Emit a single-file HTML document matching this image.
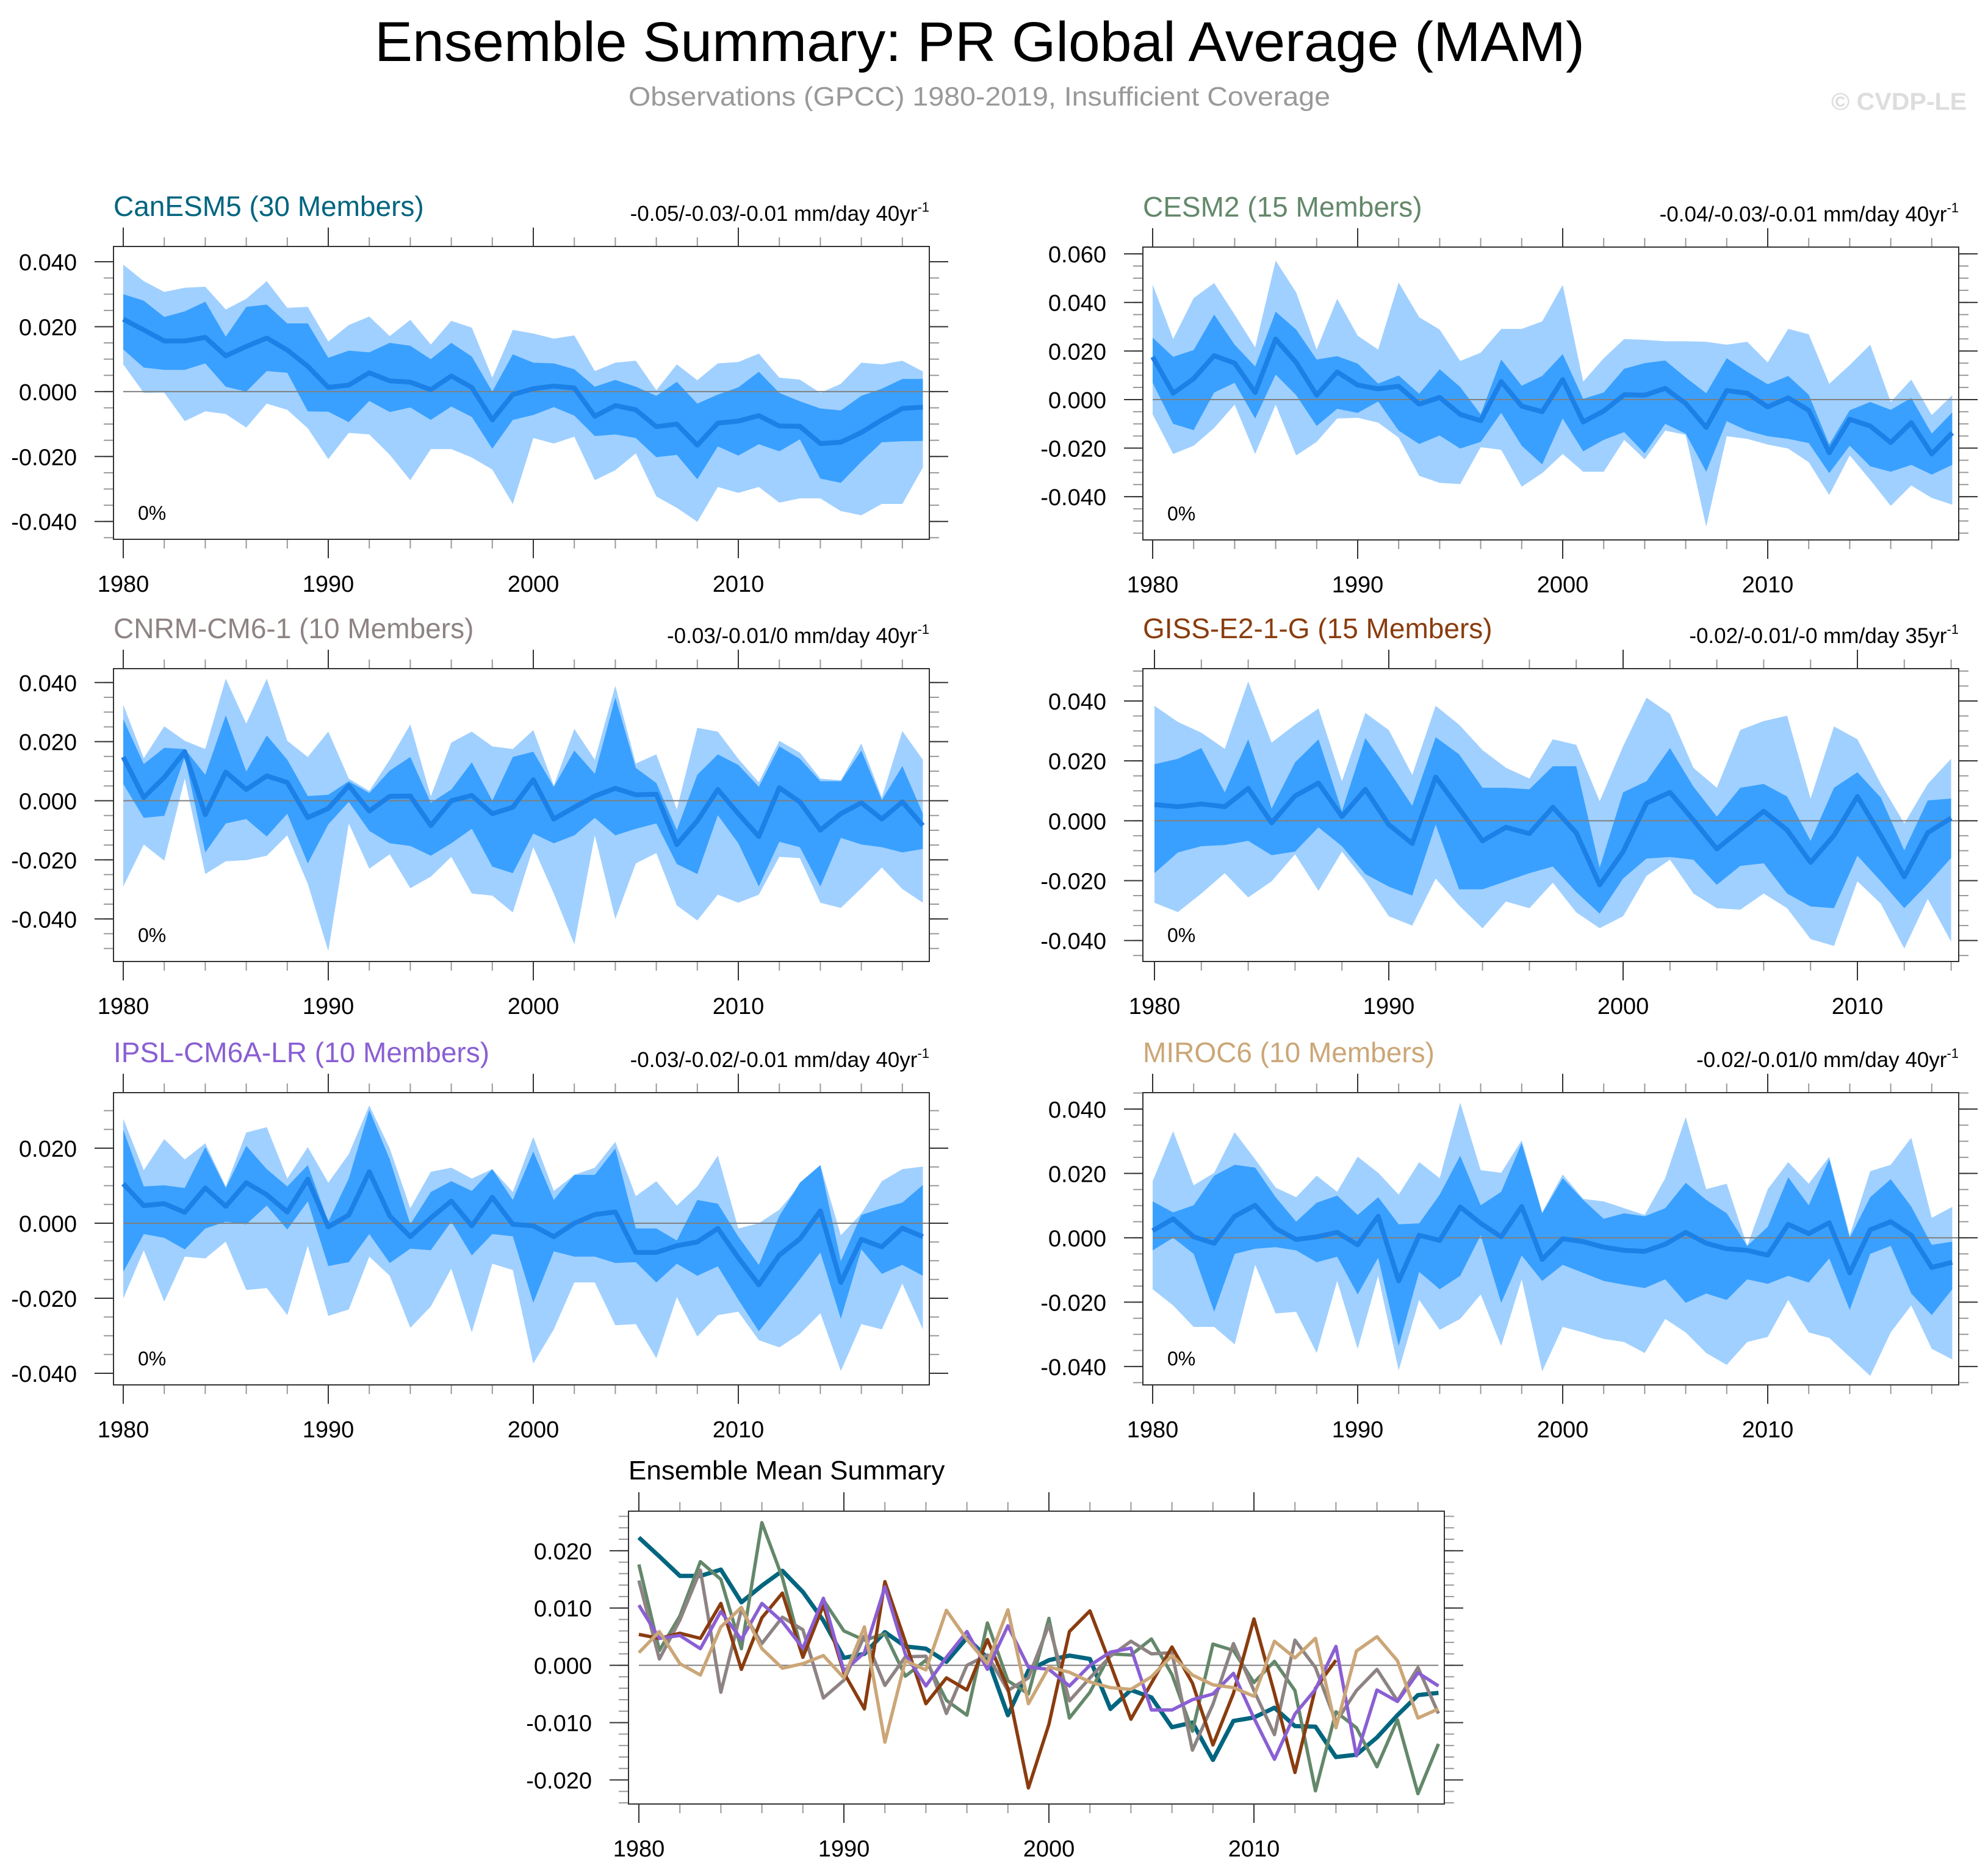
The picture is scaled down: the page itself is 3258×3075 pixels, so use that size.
<!DOCTYPE html>
<html><head><meta charset="utf-8">
<style>
html,body{margin:0;padding:0;background:#fff;}
svg{display:block;font-family:"Liberation Sans",Arial,sans-serif;}
</style></head>
<body>
<svg id="fig" width="3258" height="3075" viewBox="0 0 3258 3075" xmlns="http://www.w3.org/2000/svg">
<rect x="0" y="0" width="3258" height="3075" fill="#fff"/>
<text x="614" y="100" font-size="92" textLength="1983" lengthAdjust="spacingAndGlyphs" fill="#000">Ensemble Summary: PR Global Average (MAM)</text>
<text x="1030" y="173" font-size="44" textLength="1150" lengthAdjust="spacingAndGlyphs" fill="#999">Observations (GPCC) 1980-2019, Insufficient Coverage</text>
<text x="3001" y="180" font-size="40" font-weight="bold" textLength="222" lengthAdjust="spacingAndGlyphs" fill="#ddd">© CVDP-LE</text>
<g id="panels"></g>
</svg>
<script>
const years40 = [1980,1981,1982,1983,1984,1985,1986,1987,1988,1989,1990,1991,1992,1993,1994,1995,1996,1997,1998,1999,2000,2001,2002,2003,2004,2005,2006,2007,2008,2009,2010,2011,2012,2013,2014,2015,2016,2017,2018,2019];
const years35 = years40.slice(0,35);

const canesmMean = [0.0223,0.019,0.0156,0.0156,0.0167,0.011,0.0139,0.0165,0.0128,0.0078,0.0013,0.002,0.0058,0.0033,0.0029,0.0006,0.0048,0.0013,-0.0087,-0.0009,0.0009,0.0017,0.0011,-0.0076,-0.0043,-0.0056,-0.0108,-0.0100,-0.0165,-0.0097,-0.0091,-0.0074,-0.0106,-0.0107,-0.016,-0.0156,-0.0126,-0.0087,-0.0052,-0.0048];
const canesmInnerHi = [0.030,0.028,0.023,0.0247,0.0277,0.0169,0.0261,0.0268,0.021,0.021,0.0104,0.0126,0.0121,0.015,0.0141,0.010,0.015,0.0108,0.0,0.0115,0.0089,0.0087,0.0069,0.0015,0.0036,0.0015,-0.0013,0.003,-0.0037,-0.0009,0.0013,0.0061,-0.0004,-0.003,-0.0052,-0.0058,-0.0013,0.0009,0.0039,0.0039];
const canesmInnerLo = [0.013,0.0074,0.0067,0.0067,0.0087,0.0015,0.0,0.0063,0.0058,-0.0061,-0.0062,-0.0094,-0.0029,-0.0063,-0.0049,-0.0087,-0.0046,-0.0078,-0.0176,-0.0087,-0.0072,-0.0048,-0.0074,-0.0137,-0.0132,-0.0143,-0.0202,-0.0195,-0.027,-0.0169,-0.0197,-0.0162,-0.0184,-0.0147,-0.0268,-0.0281,-0.0216,-0.0156,-0.0153,-0.0152];
const canesmOuterHi = [0.0391,0.034,0.0307,0.032,0.0323,0.0253,0.0286,0.034,0.0258,0.0261,0.0154,0.0205,0.0231,0.0171,0.0221,0.0145,0.0218,0.0197,0.0043,0.019,0.0179,0.0163,0.0173,0.0063,0.0089,0.0095,0.0004,0.0084,0.0035,0.0087,0.0091,0.0117,0.0043,0.0037,-0.0004,0.0024,0.0089,0.0084,0.0095,0.0062];
const canesmOuterLo = [0.0084,-0.0004,-0.0003,-0.0091,-0.0061,-0.0069,-0.0111,-0.0037,-0.0056,-0.0113,-0.0208,-0.0127,-0.0132,-0.0195,-0.0273,-0.0177,-0.0177,-0.0203,-0.024,-0.0346,-0.0143,-0.016,-0.0139,-0.0273,-0.0242,-0.019,-0.0323,-0.0358,-0.0401,-0.0294,-0.0312,-0.0294,-0.0342,-0.0329,-0.0329,-0.0368,-0.0381,-0.0346,-0.0346,-0.0234];

const cesm2Mean = [0.0176,0.0026,0.0086,0.0181,0.015,0.0029,0.0249,0.0153,0.0018,0.0114,0.006,0.0044,0.0055,-0.0019,0.0009,-0.0061,-0.0087,0.0074,-0.0027,-0.005,0.0082,-0.0092,-0.0047,0.002,0.0018,0.0046,-0.0016,-0.0115,0.0037,0.0026,-0.003,0.0007,-0.0044,-0.0219,-0.0081,-0.0109,-0.0177,-0.0095,-0.0224,-0.0137];
const cesm2InnerHi = [0.0255,0.0176,0.0204,0.035,0.0226,0.0136,0.0362,0.0288,0.0165,0.0179,0.0148,0.0066,0.0099,0.0024,0.0125,0.0052,-0.0061,0.0165,0.0057,0.0097,0.0187,0.0003,0.0029,0.0127,0.015,0.0161,0.0091,0.0026,0.017,0.0114,0.0063,0.0097,0.002,-0.0185,-0.0044,-0.001,-0.0042,0.0007,-0.014,-0.0053];
const cesm2InnerLo = [0.0069,-0.01,-0.0126,0.0029,0.0069,-0.0078,0.0103,0.0018,-0.0109,-0.0038,-0.0055,-0.0008,-0.0128,-0.0183,-0.0148,-0.0202,-0.0174,-0.0055,-0.019,-0.0267,-0.0078,-0.0213,-0.0166,-0.0134,-0.0222,-0.01,-0.014,-0.0297,-0.0089,-0.0128,-0.0151,-0.0162,-0.0179,-0.0303,-0.019,-0.0275,-0.0297,-0.0269,-0.0309,-0.0269];
const cesm2OuterHi = [0.0474,0.0249,0.0418,0.048,0.035,0.0215,0.0572,0.0441,0.0206,0.0415,0.0263,0.0206,0.0482,0.0339,0.0288,0.0159,0.0193,0.0291,0.0291,0.0322,0.0472,0.0074,0.017,0.0249,0.0246,0.024,0.024,0.0238,0.0226,0.0238,0.0153,0.0291,0.0269,0.0065,0.0142,0.0226,-0.001,0.0082,-0.0064,0.0018];
const cesm2OuterLo = [-0.0061,-0.0224,-0.019,-0.0117,-0.0021,-0.0224,-0.0021,-0.023,-0.0174,-0.0078,-0.0075,-0.0095,-0.0157,-0.0314,-0.0343,-0.0348,-0.0196,-0.0207,-0.0359,-0.0303,-0.0224,-0.0297,-0.0297,-0.0166,-0.0246,-0.0128,-0.0145,-0.0523,-0.0151,-0.0162,-0.0185,-0.0202,-0.0258,-0.0393,-0.023,-0.0331,-0.0438,-0.0354,-0.0405,-0.0433];

const cnrmMean = [0.0148,0.0011,0.0079,0.0166,-0.0047,0.0097,0.0038,0.0084,0.0062,-0.0057,-0.0026,0.0051,-0.0035,0.0015,0.0016,-0.0084,0.0,0.0018,-0.0044,-0.0022,0.0071,-0.0062,-0.0022,0.0016,0.0042,0.002,0.0022,-0.0148,-0.0068,0.0038,-0.0044,-0.0121,0.0044,-0.0004,-0.0099,-0.0044,-0.0007,-0.0062,-0.0004,-0.0084];
const cnrmInnerHi = [0.0276,0.0124,0.0179,0.0175,0.0088,0.0289,0.0099,0.0221,0.0139,0.0016,0.002,0.0066,0.0026,0.0102,0.0148,-0.0007,0.0038,0.013,0.0,0.0148,0.0166,0.0047,0.017,0.0091,0.0349,0.0111,0.006,-0.0099,0.0088,0.0157,0.0121,0.0047,0.0184,0.0142,0.0066,0.0066,0.017,0.0002,0.0117,-0.0044];
const cnrmInnerLo = [0.0057,-0.0058,-0.0051,0.0148,-0.0175,-0.0077,-0.0062,-0.0121,-0.0044,-0.0212,-0.008,-0.0004,-0.0102,-0.0144,-0.0153,-0.0186,-0.0144,-0.0095,-0.0223,-0.0245,-0.0111,-0.0144,-0.0117,-0.0058,-0.0117,-0.0095,-0.0077,-0.0214,-0.0248,-0.0049,-0.0144,-0.029,-0.0139,-0.0157,-0.029,-0.0126,-0.0148,-0.0157,-0.0175,-0.0163];
const cnrmOuterHi = [0.0325,0.0144,0.0252,0.0203,0.0175,0.0413,0.0261,0.0413,0.0203,0.0148,0.0234,0.0075,0.0033,0.0139,0.0258,0.0015,0.0197,0.0234,0.0184,0.0175,0.0239,0.0051,0.0243,0.0139,0.0389,0.0126,0.0157,-0.0029,0.0247,0.0234,0.0142,0.0062,0.0203,0.0163,0.0075,0.0069,0.0194,0.0011,0.0236,0.0139];
const cnrmOuterLo = [-0.029,-0.0148,-0.0203,0.0075,-0.0248,-0.0205,-0.0201,-0.0186,-0.0117,-0.0281,-0.0509,-0.0077,-0.023,-0.0181,-0.0296,-0.0257,-0.019,-0.0314,-0.0321,-0.0378,-0.0157,-0.0314,-0.0486,-0.0117,-0.04,-0.0212,-0.0177,-0.0354,-0.0405,-0.0318,-0.0345,-0.0318,-0.019,-0.0194,-0.0345,-0.0363,-0.0296,-0.0226,-0.0299,-0.0345];

const gissMean = [0.0054,0.0047,0.0056,0.0047,0.0108,-0.0007,0.0083,0.0126,0.0014,0.0105,-0.0013,-0.0076,0.0146,0.0041,-0.0067,-0.0022,-0.0043,0.0045,-0.004,-0.0214,-0.0103,0.0059,0.0095,0.0002,-0.0094,-0.0031,0.0032,-0.0031,-0.0139,-0.0049,0.0081,-0.0049,-0.0187,-0.004,0.0009];
const gissInnerHi = [0.0189,0.0207,0.0243,0.0095,0.0272,0.0041,0.0195,0.0272,0.0032,0.0276,0.0168,0.005,0.0279,0.0222,0.011,0.011,0.0105,0.0182,0.0182,-0.0157,0.0095,0.0132,0.0243,0.0114,0.0014,0.011,0.0123,0.0081,-0.0067,0.011,0.0162,0.0077,-0.0099,0.0068,0.0074];
const gissInnerLo = [-0.0175,-0.0106,-0.0085,-0.0081,-0.0067,-0.0115,-0.0103,-0.0022,-0.0085,-0.0178,-0.022,-0.025,-0.0013,-0.0229,-0.0229,-0.0202,-0.0175,-0.0153,-0.0238,-0.031,-0.0193,-0.0126,-0.0121,-0.013,-0.0214,-0.0151,-0.0142,-0.0243,-0.0286,-0.0292,-0.0117,-0.0202,-0.0292,-0.0211,-0.0124];
const gissOuterHi = [0.0384,0.033,0.0294,0.024,0.0465,0.0261,0.0321,0.0375,0.0132,0.036,0.0303,0.0153,0.0384,0.0321,0.0236,0.0177,0.0141,0.0272,0.0254,0.0065,0.0249,0.0411,0.0357,0.0177,0.011,0.0303,0.0333,0.0351,0.0074,0.0315,0.0272,0.0123,-0.0009,0.0123,0.0207];
const gissOuterLo = [-0.0274,-0.0305,-0.0243,-0.0175,-0.0256,-0.0202,-0.0112,-0.0234,-0.0103,-0.0202,-0.0319,-0.035,-0.0193,-0.0283,-0.0359,-0.027,-0.0292,-0.0207,-0.0306,-0.0359,-0.0319,-0.0184,-0.013,-0.0243,-0.0292,-0.0297,-0.0243,-0.0292,-0.0395,-0.0418,-0.0202,-0.0277,-0.0427,-0.0261,-0.0404];

const ipslMean = [0.0105,0.0047,0.0052,0.0029,0.0094,0.0045,0.0108,0.0076,0.003,0.0117,-0.001,0.0022,0.0137,0.0019,-0.0036,0.0014,0.0059,-0.0007,0.0069,-0.0003,-0.0007,-0.0036,0.0,0.0023,0.003,-0.0078,-0.0078,-0.006,-0.005,-0.0014,-0.0092,-0.0164,-0.0085,-0.0042,0.0033,-0.0158,-0.0043,-0.0063,-0.0013,-0.0036];
const ipslInnerHi = [0.0249,0.0098,0.0101,0.0094,0.0203,0.0094,0.0206,0.0144,0.0098,0.0155,0.0004,0.0119,0.0302,0.017,-0.0003,0.0083,0.0112,0.0086,0.0144,0.0062,0.0191,0.0062,0.0129,0.0129,0.0199,-0.0014,-0.0014,-0.0046,0.0062,0.0052,-0.0036,-0.0111,0.0019,0.0108,0.0155,-0.0101,0.0022,0.004,0.0055,0.0102];
const ipslInnerLo = [-0.013,-0.0029,-0.0039,-0.007,-0.0014,0.0004,-0.0003,0.0047,-0.0017,0.0058,-0.0114,-0.0104,-0.0029,-0.0106,-0.0068,-0.0072,0.0004,-0.0086,-0.0029,-0.0035,-0.0212,-0.0075,-0.0089,-0.0089,-0.0106,-0.0104,-0.0158,-0.0108,-0.014,-0.0115,-0.0204,-0.0288,-0.0219,-0.015,-0.0078,-0.0255,-0.007,-0.0135,-0.0111,-0.014];
const ipslOuterHi = [0.0278,0.0141,0.0224,0.017,0.0213,0.0098,0.0242,0.0256,0.0119,0.0203,0.0108,0.0184,0.0314,0.0199,0.004,0.0137,0.0148,0.0119,0.0144,0.0083,0.023,0.0086,0.0129,0.0148,0.0217,0.0072,0.0112,0.0047,0.0098,0.018,-0.0014,0.0,0.0036,0.0101,0.0155,-0.0032,0.0026,0.0112,0.0144,0.0151];
const ipslOuterLo = [-0.0201,-0.0072,-0.0209,-0.0089,-0.0094,-0.0049,-0.0178,-0.0173,-0.0245,-0.006,-0.0247,-0.023,-0.0089,-0.014,-0.0279,-0.0222,-0.0121,-0.0291,-0.0108,-0.0125,-0.0374,-0.0283,-0.0158,-0.0158,-0.0272,-0.0269,-0.036,-0.0197,-0.0302,-0.0245,-0.0236,-0.0312,-0.0331,-0.0295,-0.024,-0.0394,-0.0269,-0.0283,-0.0161,-0.0283];

const mirocMean = [0.0022,0.0059,0.0003,-0.0017,0.0067,0.0101,0.0029,-0.0005,0.0003,0.0017,-0.0022,0.0067,-0.0134,0.0008,-0.0008,0.0096,0.0045,0.0003,0.0097,-0.0067,-0.0003,-0.0012,-0.0029,-0.0039,-0.0042,-0.002,0.0017,-0.0017,-0.0034,-0.0039,-0.0054,0.0042,0.0013,0.0047,-0.0109,0.0025,0.005,0.0008,-0.0092,-0.0076];
const mirocInnerHi = [0.0113,0.0079,0.0101,0.0193,0.0227,0.0218,0.0126,0.005,0.0109,0.0131,0.0071,0.0126,0.0042,0.0045,0.0134,0.0255,0.0101,0.0143,0.0294,0.0076,0.0185,0.0118,0.0059,0.0076,0.0067,0.0092,0.0171,0.0118,0.0076,-0.0025,0.0034,0.0188,0.0101,0.0244,0.0,0.0126,0.0182,0.0097,-0.0022,-0.0012];
const mirocInnerLo = [-0.0039,0.0,-0.005,-0.023,-0.005,-0.0034,-0.0029,-0.0039,-0.0076,-0.0059,-0.0176,-0.0062,-0.0336,-0.0106,-0.016,-0.0118,0.0008,-0.0202,-0.0055,-0.0134,-0.0084,-0.0109,-0.0134,-0.0146,-0.0156,-0.0129,-0.0202,-0.0173,-0.0193,-0.0129,-0.0143,-0.0118,-0.0139,-0.0064,-0.0224,-0.005,-0.0025,-0.0173,-0.024,-0.016];
const mirocOuterHi = [0.0176,0.0331,0.0163,0.0202,0.0328,0.0244,0.0156,0.0126,0.0193,0.0143,0.0252,0.0202,0.0134,0.0235,0.0185,0.042,0.021,0.0202,0.0303,0.0079,0.0197,0.0121,0.0113,0.0092,0.0071,0.0185,0.0375,0.0151,0.0168,-0.0025,0.0151,0.0235,0.0168,0.0252,0.0008,0.0207,0.0227,0.0311,0.0062,0.0096];
const mirocOuterLo = [-0.016,-0.021,-0.0277,-0.0277,-0.0331,-0.0084,-0.0235,-0.023,-0.0358,-0.0134,-0.0345,-0.0118,-0.0412,-0.0193,-0.0286,-0.0252,-0.0176,-0.0336,-0.0129,-0.0415,-0.0277,-0.0294,-0.0314,-0.0324,-0.0358,-0.0252,-0.0294,-0.0358,-0.0395,-0.0324,-0.0308,-0.0193,-0.0294,-0.0311,-0.037,-0.0429,-0.0294,-0.021,-0.0345,-0.0378];

const yTicksStd = [-0.04,-0.02,0,0.02,0.04];
const yTicksCesm = [-0.04,-0.02,0,0.02,0.04,0.06];
const yTicksIpsl = [-0.04,-0.02,0,0.02];
const yTicksSummary = [-0.02,-0.01,0,0.01,0.02];
const xTickYears = [1980,1990,2000,2010];

const NS = 'http://www.w3.org/2000/svg';
const root = document.getElementById('panels');
function mk(tag, attrs, parent){
  const e = document.createElementNS(NS, tag);
  for (const k in attrs) e.setAttribute(k, attrs[k]);
  (parent||root).appendChild(e);
  return e;
}

const panels = [
 {key:'canesm', title:'CanESM5 (30 Members)', color:'#00657f', trend:'-0.05/-0.03/-0.01 mm/day 40yr', x:186, y:404, w:1337, h:480, ymin:-0.0455, ymax:0.0447, x0:202, ppy:33.6, years:years40, yt:yTicksStd, mean:canesmMean, ih:canesmInnerHi, il:canesmInnerLo, oh:canesmOuterHi, ol:canesmOuterLo},
 {key:'cesm2', title:'CESM2 (15 Members)', color:'#63886a', trend:'-0.04/-0.03/-0.01 mm/day 40yr', x:1873, y:405, w:1337, h:480, ymin:-0.0578, ymax:0.0628, x0:1889, ppy:33.6, years:years40, yt:yTicksCesm, mean:cesm2Mean, ih:cesm2InnerHi, il:cesm2InnerLo, oh:cesm2OuterHi, ol:cesm2OuterLo},
 {key:'cnrm', title:'CNRM-CM6-1 (10 Members)', color:'#8e8383', trend:'-0.03/-0.01/0 mm/day 40yr', x:186, y:1096, w:1337, h:480, ymin:-0.0544, ymax:0.0447, x0:202, ppy:33.6, years:years40, yt:yTicksStd, mean:cnrmMean, ih:cnrmInnerHi, il:cnrmInnerLo, oh:cnrmOuterHi, ol:cnrmOuterLo},
 {key:'giss', title:'GISS-E2-1-G (15 Members)', color:'#8a3c0e', trend:'-0.02/-0.01/-0 mm/day 35yr', x:1873, y:1096, w:1337, h:480, ymin:-0.047, ymax:0.0508, x0:1892, ppy:38.4, years:years35, yt:yTicksStd, mean:gissMean, ih:gissInnerHi, il:gissInnerLo, oh:gissOuterHi, ol:gissOuterLo},
 {key:'ipsl', title:'IPSL-CM6A-LR (10 Members)', color:'#8a5fd3', trend:'-0.03/-0.02/-0.01 mm/day 40yr', x:186, y:1791, w:1337, h:479, ymin:-0.0431, ymax:0.0348, x0:202, ppy:33.6, years:years40, yt:yTicksIpsl, mean:ipslMean, ih:ipslInnerHi, il:ipslInnerLo, oh:ipslOuterHi, ol:ipslOuterLo},
 {key:'miroc', title:'MIROC6 (10 Members)', color:'#cba677', trend:'-0.02/-0.01/0 mm/day 40yr', x:1873, y:1791, w:1337, h:479, ymin:-0.0457, ymax:0.0451, x0:1889, ppy:33.6, years:years40, yt:yTicksStd, mean:mirocMean, ih:mirocInnerHi, il:mirocInnerLo, oh:mirocOuterHi, ol:mirocOuterLo}
];

function axes(p, g, minorStep, decimals){
  const sx = yr => p.x0 + (yr-1980)*p.ppy;
  const sy = v => p.y + (p.ymax - v)/(p.ymax - p.ymin)*p.h;
  const n0 = Math.ceil(p.ymin/minorStep - 1e-6), n1 = Math.floor(p.ymax/minorStep + 1e-6);
  for (let n=n0;n<=n1;n++){
    const yy = sy(n*minorStep);
    const t1 = mk('line',{x1:p.x-16,x2:p.x,y1:yy,y2:yy,stroke:'#999','stroke-width':2},g);
    
    
    const t2 = mk('line',{x1:p.x+p.w,x2:p.x+p.w+16,y1:yy,y2:yy,stroke:'#999','stroke-width':2},g);
    
    
  }
  p.yt.forEach(v=>{
    const yy = sy(v);
    const t1 = mk('line',{x1:p.x-31,x2:p.x,y1:yy,y2:yy,stroke:'#333','stroke-width':2},g);
    
    
    const t2 = mk('line',{x1:p.x+p.w,x2:p.x+p.w+31,y1:yy,y2:yy,stroke:'#333','stroke-width':2},g);
    
    
    const lb = mk('text',{x:p.x-60,y:yy+14,'font-size':38,'text-anchor':'end',fill:'#000'},g);
    
    
    lb.textContent = v.toFixed(decimals);
  });
  const yEnd = 1980 + Math.floor((p.x+p.w - p.x0)/p.ppy);
  for (let yr=1980; yr<=yEnd; yr+=2){
    const xx = sx(yr);
    const major = (yr%10===0);
    const L = major?31:15, col = major?'#333':'#999';
    const t1 = mk('line',{x1:xx,x2:xx,y1:p.y-L,y2:p.y,stroke:col,'stroke-width':2},g);
    
    
    const t2 = mk('line',{x1:xx,x2:xx,y1:p.y+p.h,y2:p.y+p.h+L,stroke:col,'stroke-width':2},g);
    
    
  }
  xTickYears.forEach(yr=>{
    const lb = mk('text',{x:sx(yr),y:p.y+p.h+86,'font-size':38,'text-anchor':'middle',fill:'#000'},g);
    
    
    lb.textContent = yr;
  });
  return {sx, sy};
}

function pts(years, vals, sx, sy){ return years.map((yr,i)=>sx(yr).toFixed(1)+','+sy(vals[i]).toFixed(1)); }

panels.forEach(p=>{
  const g = mk('g',{});
  
  
  const {sx, sy} = axes(p, g, 0.005, 3);
  const outer = mk('polygon',{points: pts(p.years,p.oh,sx,sy).concat(pts(p.years,p.ol,sx,sy).reverse()).join(' '), fill:'#a0d0ff'},g);
  
  
  const inner = mk('polygon',{points: pts(p.years,p.ih,sx,sy).concat(pts(p.years,p.il,sx,sy).reverse()).join(' '), fill:'#39a0ff'},g);
  
  
  const zl = mk('line',{x1:sx(1980),x2:p.x+p.w,y1:sy(0),y2:sy(0),stroke:'#808080','stroke-width':2},g);
  
  
  const ml = mk('polyline',{points: pts(p.years,p.mean,sx,sy).join(' '), fill:'none', stroke:'#1c80e6','stroke-width':8,'stroke-linejoin':'round'},g);
  
  
  const box = mk('rect',{x:p.x,y:p.y,width:p.w,height:p.h,fill:'none',stroke:'#333','stroke-width':2},g);
  
  
  const tt = mk('text',{x:p.x,y:p.y-50,'font-size':46,fill:p.color},g);
  
  
  tt.textContent = p.title;
  const tr = mk('text',{x:p.x+p.w,y:p.y-42,'font-size':35,'text-anchor':'end',fill:'#000'},g);
  
  
  const s1 = mk('tspan',{},tr); s1.textContent = p.trend;
  const s2 = mk('tspan',{dy:-15,'font-size':22},tr); s2.textContent = '-1';
  const pc = mk('text',{x:p.x+40,y:p.y+p.h-32,'font-size':32,fill:'#000'},g);
  
  
  pc.textContent = '0%';
});

const summary = {x:1030, y:2477, w:1337, h:480, ymin:-0.0242, ymax:0.0269, x0:1047, ppy:33.6, yt:yTicksSummary};
const sg = mk('g',{});


const sAx = axes(summary, sg, 0.002, 3);
const szl = mk('line',{x1:sAx.sx(1980),x2:sAx.sx(2019),y1:sAx.sy(0),y2:sAx.sy(0),stroke:'#808080','stroke-width':2},sg);


panels.forEach(p=>{
  const l = mk('polyline',{points: pts(p.years,p.mean,sAx.sx,sAx.sy).join(' '), fill:'none', stroke:p.color,'stroke-width':p.key==='canesm'?7:5.5,'stroke-linejoin':'round'},sg);
  
  
});
const sbox = mk('rect',{x:summary.x,y:summary.y,width:summary.w,height:summary.h,fill:'none',stroke:'#333','stroke-width':2},sg);


const st = mk('text',{x:summary.x,y:summary.y-52,'font-size':44,fill:'#000'},sg);


st.textContent = 'Ensemble Mean Summary';
</script>
</body></html>
